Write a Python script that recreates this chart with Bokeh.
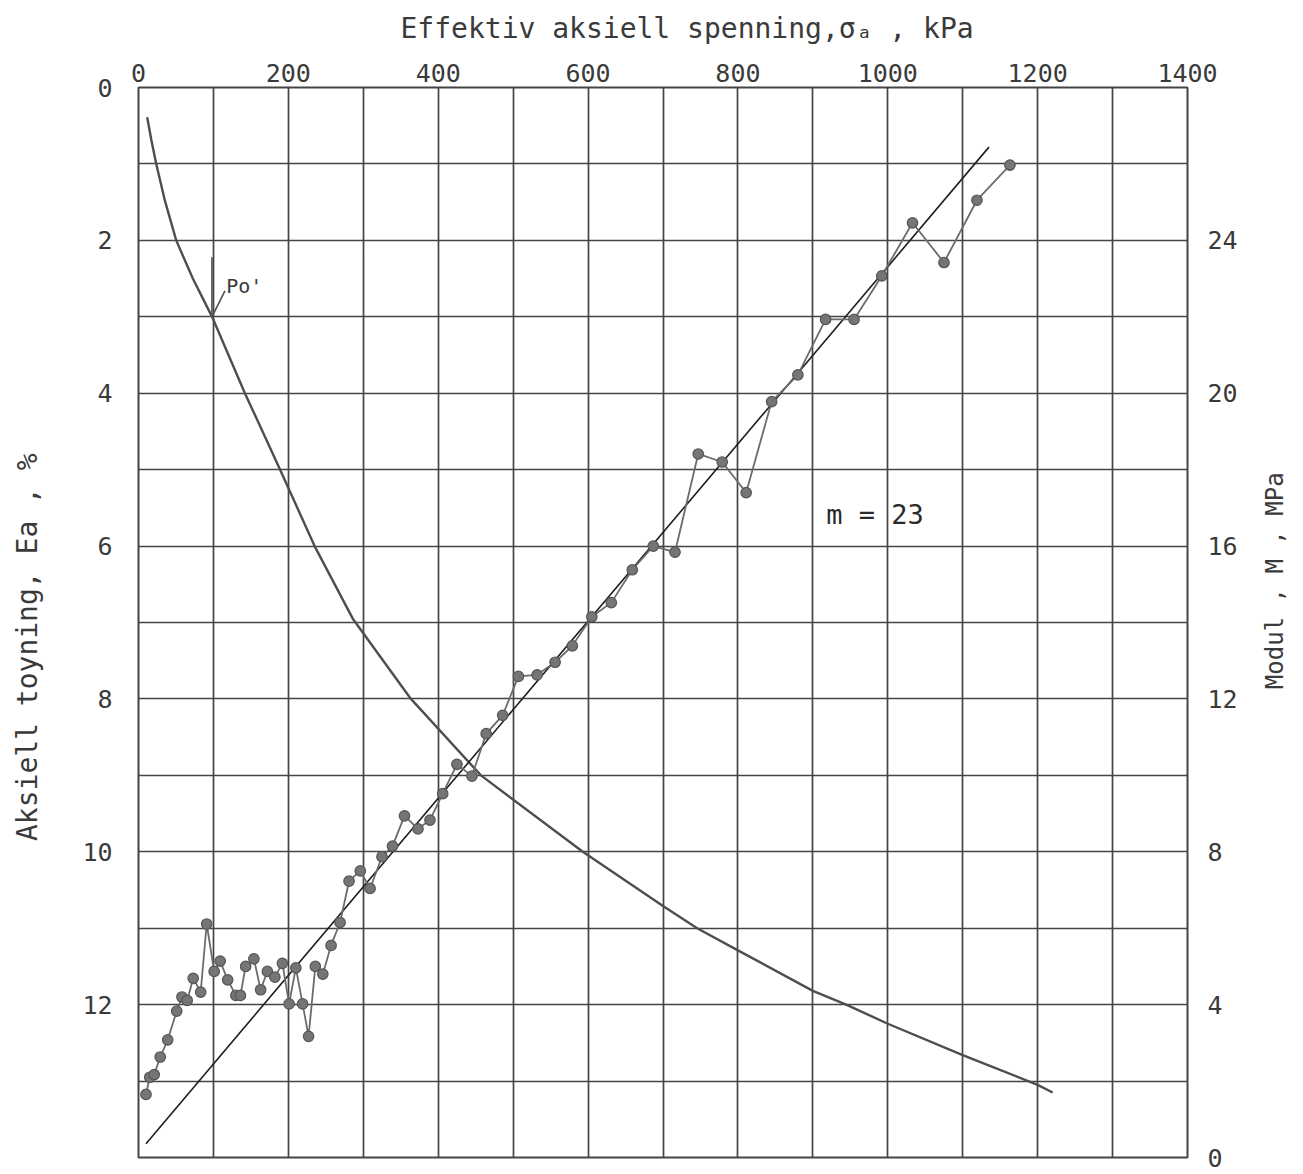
import math
from bokeh.plotting import figure
from bokeh.layouts import row, column
from bokeh.models import (Range1d, LinearAxis, FixedTicker, Arrow, OpenHead,
                          Label, ColumnDataSource)
from bokeh.embed import file_html
from bokeh.resources import INLINE

# ---------------- data ----------------
stress_ticks = [0, 200, 400, 600, 800, 1000, 1200, 1400]          # kPa (top axis)
stress_grid = list(range(0, 1401, 100))
strain_ticks = [0, 2, 4, 6, 8, 10, 12]                              # % (left axis)
strain_grid = list(range(0, 15))
modulus_ticks = [0, 4, 8, 12, 16, 20, 24]                           # MPa (right axis)

# axial strain curve  (stress kPa, strain %)
curve_stress = [11.6, 17, 23.7, 34.7, 50.3, 72.5, 98.2, 142, 189, 235, 286,
                363.6, 457, 593, 700, 745.6, 800, 900, 944.5, 1000, 1100,
                1200, 1220]
curve_strain = [0.39, 0.68, 1.0, 1.46, 2.0, 2.5, 3.0, 4.0, 5.0, 6.0, 6.95,
                8.0, 9.0, 10.0, 10.71, 11.0, 11.29, 11.82, 12.0, 12.25, 12.66,
                13.05, 13.15]

# modulus points (stress kPa, modulus MPa)
mod_stress = [10, 15, 21, 29, 39, 51, 58, 65, 73, 83, 91, 101, 109, 119, 130,
              136, 143, 154, 163, 172, 182, 192, 201, 210, 219, 227, 236, 246,
              257, 269, 281, 296, 309, 325, 339, 355, 373, 389, 406, 425, 445,
              464, 486, 507, 532, 556, 579, 605, 631, 659, 687, 716, 747, 779,
              811, 845, 880, 917, 955, 992, 1033, 1075, 1119, 1163]
mod_value = [1.65, 2.1, 2.17, 2.63, 3.08, 3.83, 4.2, 4.11, 4.69, 4.33, 6.11,
             4.87, 5.14, 4.65, 4.24, 4.24, 5.0, 5.2, 4.39, 4.87, 4.72, 5.08,
             4.02, 4.96, 4.02, 3.17, 5.0, 4.8, 5.55, 6.15, 7.23, 7.5, 7.04,
             7.87, 8.15, 8.94, 8.6, 8.83, 9.52, 10.29, 9.98, 11.09, 11.57,
             12.59, 12.63, 12.96, 13.39, 14.15, 14.52, 15.38, 16.0, 15.84,
             18.41, 18.2, 17.4, 19.78, 20.48, 21.93, 21.93, 23.07, 24.46,
             23.42, 25.05, 25.97]

# fitted modulus line, m = 23
fit_stress = [10, 1135]
fit_modulus = [0.36, 26.44]

# preconsolidation marker
po_stress = 98
po_strain = 3.0

FONT = "DejaVu Sans Mono"
TXT = "#3a3a3a"
GRID = "#444444"

TOP_H = 45                      # height of strip holding the top title
MAIN_H = 42 + 1070 + 16         # main figure height
SIDE = 60                       # width of side strips
MAIN_W = 78 + 1049 + 55

p = figure(frame_width=1049, frame_height=1070,
           x_range=Range1d(0, 1400), y_range=Range1d(14, 0),
           x_axis_location="above", y_axis_location="left",
           output_backend="svg", toolbar_location=None, title=None,
           min_border_left=78, min_border_top=42,
           min_border_right=55, min_border_bottom=16,
           background_fill_color="white", border_fill_color="white")

p.extra_y_ranges = {"mod": Range1d(0, 28)}
right_axis = LinearAxis(y_range_name="mod")
p.add_layout(right_axis, "right")


def style_axis(ax, ticks, size, standoff):
    ax.ticker = FixedTicker(ticks=ticks)
    ax.axis_line_color = None
    ax.major_tick_line_color = None
    ax.minor_tick_line_color = None
    ax.major_tick_out = 0
    ax.major_tick_in = 0
    ax.major_label_text_font = FONT
    ax.major_label_text_font_size = size
    ax.major_label_text_color = TXT
    ax.major_label_standoff = standoff


style_axis(p.xaxis[0], stress_ticks, "25px", 6)
style_axis(p.yaxis[0], strain_ticks, "25px", 26)
style_axis(right_axis, modulus_ticks, "25px", 20)

p.xgrid.ticker = FixedTicker(ticks=stress_grid)
p.ygrid.ticker = FixedTicker(ticks=strain_grid)
for g in (p.xgrid, p.ygrid):
    g.grid_line_color = GRID
    g.grid_line_width = 1.7
    g.grid_line_alpha = 1.0

p.outline_line_color = GRID
p.outline_line_width = 2

# strain curve
p.line(curve_stress, curve_strain, line_color="#4e4e4e", line_width=2.4)

# fitted straight line
p.line(fit_stress, fit_modulus, y_range_name="mod",
       line_color="#1e1e1e", line_width=1.6)

# modulus data
src = ColumnDataSource(dict(s=mod_stress, m=mod_value))
p.line("s", "m", source=src, y_range_name="mod",
       line_color="#6b6b6b", line_width=1.8)
p.scatter("s", "m", source=src, y_range_name="mod", size=10.5,
          fill_color="#757575", line_color="#555555", line_width=1.2)

# Po' arrow
p.add_layout(Arrow(end=OpenHead(size=26, line_color="#505050", line_width=1.6),
                   x_start=po_stress, y_start=po_strain - 0.78,
                   x_end=po_stress, y_end=po_strain,
                   line_color="#505050", line_width=1.6))
p.add_layout(Label(x=po_stress + 19, y=po_strain - 0.4, text="Po'",
                   text_font=FONT, text_font_size="20px", text_color=TXT,
                   text_baseline="middle", text_align="left"))

# m = 23
p.add_layout(Label(x=918, y=5.59, text="m = 23",
                   text_font=FONT, text_font_size="27px", text_color="#2a2a2a",
                   text_baseline="middle", text_align="left"))


def strip(x0, x1, y0, y1):
    """blank figure whose data coordinates are page pixels"""
    f = figure(width=x1 - x0, height=y1 - y0, x_range=Range1d(x0, x1),
               y_range=Range1d(y1, y0), x_axis_type=None, y_axis_type=None,
               output_backend="svg", toolbar_location=None, title=None,
               min_border=0, min_border_left=0, min_border_right=0,
               min_border_top=0, min_border_bottom=0,
               background_fill_color="white", border_fill_color="white")
    f.outline_line_color = None
    return f


top_strip = strip(0, SIDE + MAIN_W + SIDE, 0, TOP_H)
left_strip = strip(0, SIDE, TOP_H, TOP_H + MAIN_H)
right_strip = strip(SIDE + MAIN_W, SIDE + MAIN_W + SIDE, TOP_H, TOP_H + MAIN_H)

top_strip.add_layout(Label(x=400, y=28, text="Effektiv aksiell spenning,σₐ  , kPa",
                           text_font=FONT, text_font_size="28px", text_color=TXT,
                           text_align="left", text_baseline="middle"))
left_strip.add_layout(Label(x=27, y=635, text="Aksiell toyning, Ea , %",
                            angle=math.pi / 2, text_font=FONT,
                            text_font_size="28px", text_color=TXT,
                            text_align="center", text_baseline="middle"))
right_strip.add_layout(Label(x=1274, y=565, text="Modul , M , MPa",
                             angle=math.pi / 2, text_font=FONT,
                             text_font_size="24px", text_color=TXT,
                             text_align="center", text_baseline="middle"))

layout = column(top_strip, row(left_strip, p, right_strip, spacing=0), spacing=0)
open("out.html", "w").write(file_html(layout, INLINE))
